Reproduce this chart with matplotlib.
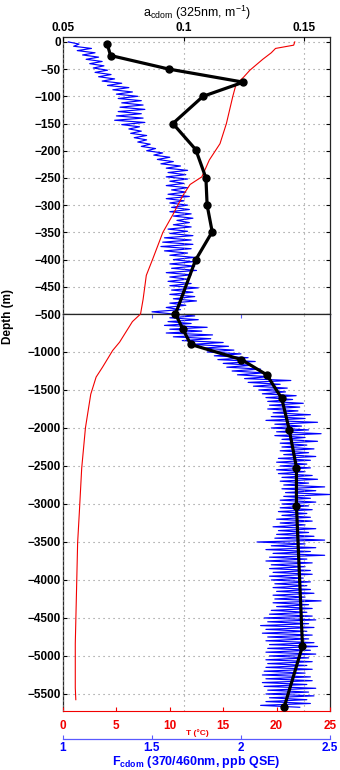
import numpy as np
import matplotlib
matplotlib.use('Agg')
import matplotlib.pyplot as plt

plt.rcParams['font.family'] = ['Liberation Sans', 'DejaVu Sans']

# a_cdom (325nm) bottle samples
acdom_depth = [-4, -25, -50, -74, -100, -150, -198, -250, -300, -349, -401, -500,
               -700, -900, -1100, -1300, -1610, -2020, -2520, -3020, -4870, -5675]
acdom = [0.0683, 0.0697, 0.0939, 0.1247, 0.108, 0.0955, 0.105, 0.1092, 0.1097, 0.1118, 0.1049, 0.0966,
         0.0997, 0.1029, 0.1239, 0.1344, 0.1406, 0.1437, 0.1467, 0.1467, 0.1492, 0.1416]

# CTD temperature
temp_depth = [0, -6, -12, -20, -32, -52, -65, -78, -100, -125, -150, -187, -217, -248, -262, -283,
              -317, -350, -399, -429, -473, -500, -600, -735, -870, -980, -1200, -1330, -1555,
              -1910, -2000, -2530, -3110, -3510, -4840, -5420, -5575]
temp = [21.7, 21.6, 19.9, 19.5, 18.7, 17.5, 16.9, 16.2, 15.9, 15.6, 15.3, 14.7, 13.7, 13.0, 11.9, 11.2,
        10.3, 9.35, 8.4, 7.8, 7.5, 7.26, 6.5, 5.9, 5.3, 4.65, 3.7, 3.1, 2.6,
        2.2, 2.1, 1.75, 1.53, 1.37, 1.15, 1.15, 1.2]

# CDOM fluorometer, every 4 m down to 500 m then every 25 m
fcdom_top = [1.03, 1.09, 1.06, 1.16, 1.08, 1.18, 1.11, 1.20, 1.13, 1.22,
             1.15, 1.23, 1.17, 1.25, 1.18, 1.27, 1.20, 1.29, 1.22, 1.33,
             1.25, 1.37, 1.28, 1.39, 1.30, 1.42, 1.31, 1.44, 1.33, 1.45,
             1.32, 1.46, 1.31, 1.44, 1.30, 1.45, 1.29, 1.46, 1.33, 1.43,
             1.37, 1.44, 1.38, 1.47, 1.40, 1.47, 1.42, 1.49, 1.44, 1.52,
             1.47, 1.56, 1.51, 1.60, 1.53, 1.62, 1.55, 1.66, 1.58, 1.70,
             1.59, 1.69, 1.58, 1.70, 1.60, 1.68, 1.58, 1.70, 1.61, 1.69,
             1.59, 1.71, 1.58, 1.68, 1.60, 1.70, 1.61, 1.71, 1.60, 1.72,
             1.62, 1.73, 1.64, 1.71, 1.62, 1.72, 1.59, 1.70, 1.60, 1.73,
             1.57, 1.72, 1.56, 1.73, 1.55, 1.72, 1.57, 1.70, 1.60, 1.74,
             1.62, 1.73, 1.60, 1.74, 1.61, 1.75, 1.58, 1.72, 1.60, 1.70,
             1.59, 1.72, 1.60, 1.76, 1.61, 1.73, 1.60, 1.74, 1.62, 1.75,
             1.60, 1.69, 1.58, 1.66, 1.50, 1.62]
fcdom_deep = [1.74, 1.60, 1.76, 1.59, 1.72, 1.57, 1.81, 1.60, 1.78, 1.58,
              1.84, 1.62, 1.83, 1.67, 1.90, 1.72, 1.93, 1.78, 1.96, 1.81,
              2.00, 1.85, 2.04, 1.87, 2.08, 1.90, 2.06, 1.92, 2.11, 1.95,
              2.13, 1.98, 2.16, 2.02, 2.28, 2.04, 2.22, 2.07, 2.26, 2.10,
              2.25, 2.12, 2.31, 2.14, 2.29, 2.15, 2.35, 2.16, 2.33, 2.15,
              2.32, 2.18, 2.39, 2.17, 2.36, 2.14, 2.43, 2.19, 2.34, 2.17,
              2.38, 2.20, 2.45, 2.19, 2.36, 2.23, 2.43, 2.22, 2.37, 2.23,
              2.41, 2.22, 2.38, 2.24, 2.42, 2.21, 2.39, 2.20, 2.37, 2.22,
              2.39, 2.20, 2.36, 2.21, 2.40, 2.23, 2.43, 2.22, 2.38, 2.24,
              2.47, 2.23, 2.42, 2.25, 2.50, 2.24, 2.39, 2.22, 2.42, 2.23,
              2.38, 2.22, 2.40, 2.21, 2.37, 2.23, 2.39, 2.20, 2.40, 2.22,
              2.36, 2.18, 2.42, 2.21, 2.38, 2.20, 2.41, 2.19, 2.47, 2.09,
              2.36, 2.17, 2.42, 2.14, 2.39, 2.18, 2.47, 2.16, 2.37, 2.14,
              2.40, 2.17, 2.36, 2.16, 2.39, 2.18, 2.40, 2.16, 2.35, 2.17,
              2.39, 2.19, 2.37, 2.18, 2.39, 2.20, 2.41, 2.18, 2.36, 2.19,
              2.45, 2.18, 2.38, 2.20, 2.40, 2.17, 2.37, 2.16, 2.40, 2.13,
              2.42, 2.15, 2.38, 2.11, 2.41, 2.14, 2.37, 2.12, 2.40, 2.15,
              2.38, 2.14, 2.41, 2.16, 2.43, 2.15, 2.39, 2.14, 2.42, 2.16,
              2.38, 2.14, 2.40, 2.15, 2.37, 2.14, 2.40, 2.13, 2.36, 2.12,
              2.39, 2.14, 2.40, 2.12, 2.37, 2.13, 2.42, 2.15, 2.38, 2.14,
              2.41, 2.16, 2.37, 2.14, 2.39, 2.11, 2.33]
fcdom_depth = np.concatenate([np.arange(0, -501, -4), np.arange(-525, -5676, -25)])
fcdom = fcdom_top + fcdom_deep

acdom_ticks = [0.05, 0.1, 0.15]
acdom_labels = ['0.05', '0.1', '0.15']
temp_ticks = [0, 5, 10, 15, 20, 25]
fcdom_ticks = [1, 1.5, 2, 2.5]
fcdom_labels = ['1', '1.5', '2', '2.5']

FS = 8.5
BLUE = (0.0, 0.0, 1.0)
AXBLUE = (0.35, 0.35, 1.0)
RED = (0.95, 0.0, 0.0)
GRID = dict(ls=(0, (1, 3.5)), color='0.55', lw=0.8)


def panel(rect, ylim, yticks):
  ax = fig.add_axes(rect)
  ax.set_xlim(1, 2.5)
  ax.set_ylim(ylim)
  ax.plot(fcdom, fcdom_depth, color=BLUE, lw=0.85)
  ax.set_yticks(yticks)
  ax.set_yticklabels(['\u2212%d' % -v if v < 0 else '%d' % v for v in yticks],
                     fontsize=FS, fontweight='bold')
  ax.tick_params(axis='y', direction='in', left=True, right=True, length=3, pad=1.5)
  ax.grid(axis='y', **GRID)
  for s in ax.spines.values():
    s.set_linewidth(0.9)
    s.set_color('0.15')

  tax = ax.twiny()
  tax.set_xlim(0, 25)
  tax.plot(temp, temp_depth, color=RED, lw=0.8)

  aax = ax.twiny()
  aax.set_xlim(0.05, 0.1606)
  aax.plot(acdom, acdom_depth, '-o', color='black', lw=2.3, ms=5)
  aax.set_xticks(acdom_ticks)
  aax.grid(axis='x', **GRID)
  for a in (tax, aax):
    for s in a.spines.values():
      s.set_visible(False)
  return ax, tax, aax


fig = plt.figure(figsize=(3.4, 7.7), dpi=100)
L, W = 63 / 340, 267 / 340

# upper 500 m
ax1, tax1, aax1 = panel([L, 1 - 314 / 770, W, 277 / 770], (-500, 9), list(range(0, -501, -50)))
ax1.tick_params(axis='x', bottom=False, labelbottom=False)
tax1.tick_params(axis='x', top=False, labeltop=False)
aax1.set_xticklabels(acdom_labels, fontsize=FS, fontweight='bold')
aax1.tick_params(axis='x', direction='in', length=3, pad=2, top=True)
aax1.set_xlabel('a$_{\\mathregular{cdom}}$ (325nm, m$^{\\mathregular{-1}}$)', fontsize=9, labelpad=4)

# deep part
ax2, tax2, aax2 = panel([L, 1 - 711 / 770, W, 397 / 770], (-5724, -500), list(range(-1000, -5501, -500)))
aax2.tick_params(axis='x', top=False, labeltop=False)

tax2.xaxis.set_ticks_position('bottom')
tax2.xaxis.set_label_position('bottom')
tax2.spines['bottom'].set_visible(True)
tax2.spines['bottom'].set_color(RED)
tax2.set_xticks(temp_ticks)
tax2.set_xticklabels([str(t) for t in temp_ticks], fontsize=FS, fontweight='bold', color=RED)
tax2.tick_params(axis='x', direction='in', length=3, color=RED, pad=6.5)

ax2.spines['bottom'].set_position(('outward', 20))
ax2.spines['bottom'].set_color(AXBLUE)
ax2.set_xticks(fcdom_ticks)
ax2.set_xticklabels(fcdom_labels, fontsize=FS, fontweight='bold', color=BLUE)
ax2.tick_params(axis='x', direction='in', length=3, color=AXBLUE, top=True, pad=2)
ax2.set_xlabel('F$_{\\mathregular{cdom}}$ (370/460nm, ppb QSE)', fontsize=9,
               fontweight='bold', color=BLUE, labelpad=0)

fig.text(197 / 340, 1 - 733 / 770, 'T (\u00b0C)', color=RED, fontsize=6, fontweight='bold',
         ha='center', va='center')
fig.text(7.5 / 340, 1 - 316 / 770, 'Depth (m)', rotation=90, fontsize=FS, fontweight='bold',
         ha='center', va='center')

fig.savefig('out.png', dpi=100)
